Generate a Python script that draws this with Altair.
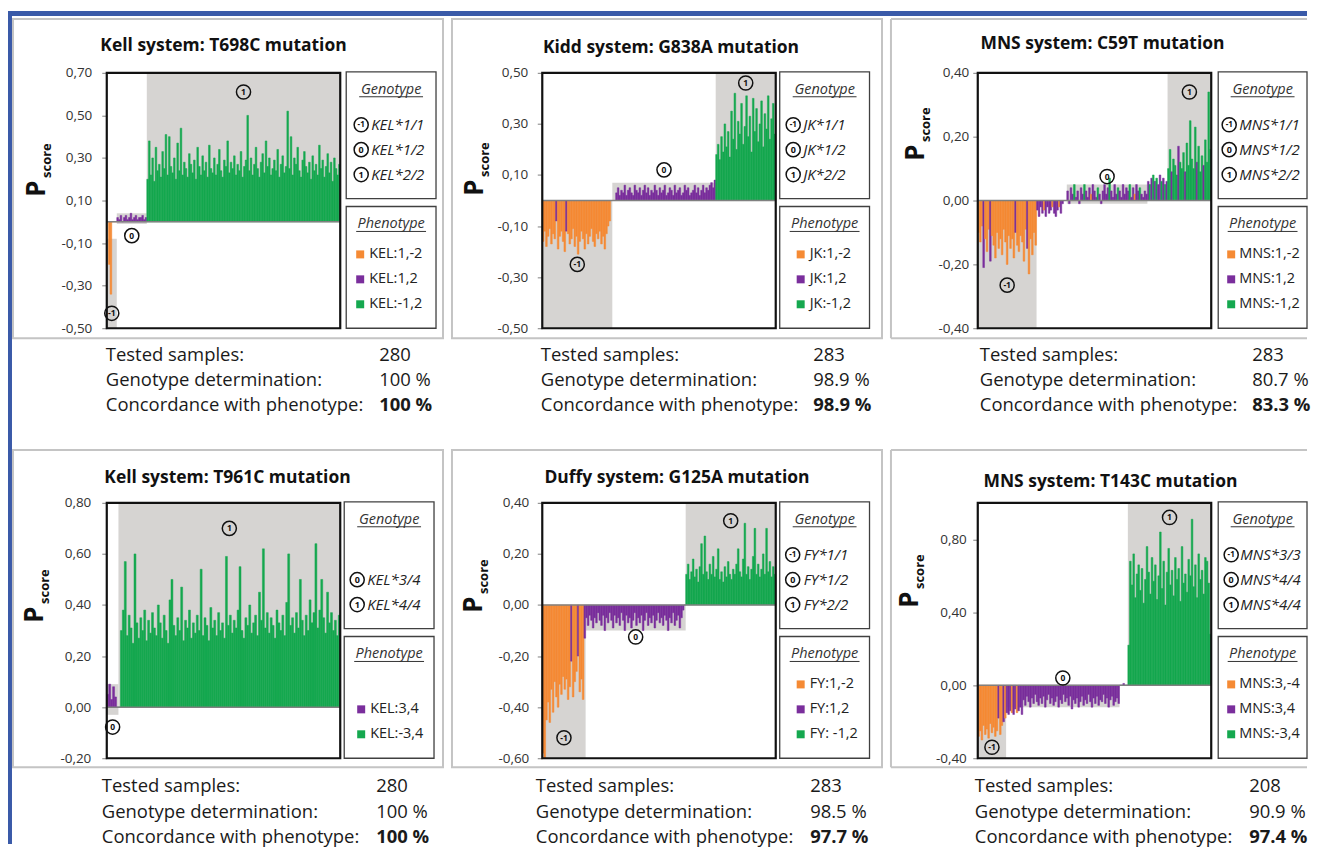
import altair as alt

ORANGE, PURPLE, GREEN = "#F58A34", "#7A2E9C", "#15A84F"
BAND = "#D6D4D2"
BLUE = "#3A5AA8"
BOXGREY = "#C4C4C4"
LEGBOX = "#404040"
FONT = "Open Sans"
W, H = 234, 256

# ---------------- Panel 1: Kell T698C ----------------
p1_title = "Kell system: T698C mutation"
p1_domain = [-0.5, 0.7]
p1_ticks = [-0.5, -0.3, -0.1, 0.1, 0.3, 0.5, 0.7]
p1_gm1 = [0.00, -0.20, -0.34, 0.00, 0.00, 0.00]
p1_g0 = [0.02, 0.01, 0.03, 0.00, 0.02, 0.03, 0.01, 0.02, 0.04, 0.01, 0.02, 0.03, 0.01, 0.02, 0.02, 0.03, 0.01, 0.02]
p1_g1 = [0.20, 0.38, 0.22, 0.30, 0.19, 0.35, 0.24, 0.27, 0.21, 0.33, 0.25, 0.41, 0.22, 0.40, 0.26, 0.23, 0.30, 0.20, 0.37, 0.24,
         0.44, 0.22, 0.28, 0.25, 0.21, 0.32, 0.27, 0.23, 0.29, 0.20, 0.35, 0.26, 0.22, 0.31, 0.24, 0.28, 0.21, 0.36, 0.25, 0.23,
         0.30, 0.22, 0.27, 0.34, 0.24, 0.21, 0.29, 0.26, 0.38, 0.23, 0.28, 0.25, 0.31, 0.22, 0.27, 0.24, 0.33, 0.21, 0.26, 0.29,
         0.50, 0.24, 0.30, 0.22, 0.27, 0.35, 0.25, 0.21, 0.28, 0.32, 0.23, 0.38, 0.26, 0.30, 0.22, 0.25, 0.29, 0.24, 0.34, 0.21,
         0.27, 0.31, 0.23, 0.26, 0.52, 0.25, 0.40, 0.22, 0.30, 0.27, 0.35, 0.24, 0.21, 0.29, 0.33, 0.26, 0.23, 0.28, 0.20, 0.31,
         0.24, 0.27, 0.22, 0.36, 0.25, 0.29, 0.21, 0.26, 0.32, 0.23, 0.28, 0.19, 0.30, 0.25, 0.22, 0.27]
p1_geno = [("-1", "KEL*1/1"), ("0", "KEL*1/2"), ("1", "KEL*2/2")]
p1_pheno = [("O", "KEL:1,-2"), ("P", "KEL:1,2"), ("G", "KEL:-1,2")]
p1_stats = ["280", "100 %", "100 %"]

# ---------------- Panel 2: Kidd G838A ----------------
p2_title = "Kidd system: G838A mutation"
p2_domain = [-0.5, 0.5]
p2_ticks = [-0.5, -0.3, -0.1, 0.1, 0.3, 0.5]
p2_gm1 = [-0.16, -0.12, -0.18, -0.14, -0.11, -0.17, -0.13, -0.15, -0.08, -0.19,
          -0.14, -0.12, -0.16, -0.20, -0.12, -0.13, -0.17, -0.15, -0.11, -0.18,
          -0.14, -0.21, -0.16, -0.12, -0.15, -0.19, -0.13, -0.17, -0.14, -0.11,
          -0.16, -0.18, -0.13, -0.15, -0.12, -0.17, -0.14, -0.19, -0.13, -0.10,
          -0.08, 0.00]
p2_g0 = [0.00, 0.00, 0.03, 0.05, 0.02, 0.04, 0.03, 0.06, 0.02, 0.04,
         0.05, 0.03, 0.02, 0.06, 0.04, 0.03, 0.05, 0.02, 0.04, 0.06,
         0.03, 0.05, 0.02, 0.04, 0.03, 0.06, 0.04, 0.02, 0.05, 0.03,
         0.04, 0.06, 0.02, 0.03, 0.05, 0.04, 0.02, 0.06, 0.03, 0.04,
         0.05, 0.02, 0.03, 0.06, 0.04, 0.05, 0.02, 0.03, 0.04, 0.06,
         0.03, 0.05, 0.02, 0.04, 0.06, 0.03, 0.05, 0.04, 0.06, 0.07,
         0.05, 0.08]
p2_g1 = [0.18, 0.22, 0.16, 0.25, 0.19, 0.30, 0.21, 0.27, 0.17, 0.35,
         0.24, 0.42, 0.20, 0.31, 0.26, 0.38, 0.22, 0.29, 0.41, 0.25,
         0.33, 0.19, 0.40, 0.27, 0.36, 0.23, 0.30, 0.39, 0.21, 0.34,
         0.28, 0.41, 0.24, 0.32, 0.38, 0.26]
p2_geno = [("-1", "JK*1/1"), ("0", "JK*1/2"), ("1", "JK*2/2")]
p2_pheno = [("O", "JK:1,-2"), ("P", "JK:1,2"), ("G", "JK:-1,2")]
p2_stats = ["283", "98.9 %", "98.9 %"]

# ---------------- Panel 3: MNS C59T ----------------
p3_title = "MNS system: C59T mutation"
p3_domain = [-0.4, 0.4]
p3_ticks = [-0.4, -0.2, 0.0, 0.2, 0.4]
p3_gm1 = [-0.10, -0.13, -0.08, -0.21, -0.12, -0.16, -0.09, -0.19, -0.11, -0.14,
          -0.18, -0.10, -0.15, -0.12, -0.17, -0.09, -0.13, -0.20, -0.11, -0.15,
          -0.12, -0.18, -0.10, -0.14, -0.16, -0.11, -0.13, -0.19, -0.09, -0.15,
          -0.23, -0.12, -0.17, -0.10, -0.14]
p3_gap1 = [-0.03, -0.05, -0.02, -0.04, -0.03, -0.05, -0.02, -0.04, -0.03, -0.02,
           -0.04, -0.05, -0.03, -0.02, -0.04, -0.01, 0.00, 0.00]
p3_g0 = [0.03, -0.01, 0.04, 0.02, 0.05, 0.01, 0.03, -0.01, 0.04, 0.02,
         0.05, 0.03, 0.01, 0.04, 0.02, 0.05, 0.03, 0.01, 0.04, 0.02,
         -0.01, 0.03, 0.05, 0.02, 0.04, 0.07, 0.03, 0.01, 0.05, 0.02,
         0.04, 0.03, 0.01, 0.05, 0.02, 0.04, 0.03, 0.05, 0.01, 0.04,
         0.02, 0.05, 0.03, 0.04, 0.02, 0.01, 0.03, 0.02]
p3_gap2 = [0.06, 0.05, 0.07, 0.08, 0.06, 0.07, 0.05, 0.08, 0.06, 0.07, 0.05, 0.06]
p3_g1 = [0.10, 0.16, 0.09, 0.13, 0.11, 0.08, 0.17, 0.12, 0.10, 0.15, 0.09, 0.18, 0.11,
         0.25, 0.13, 0.10, 0.23, 0.12, 0.17, 0.09, 0.14, 0.11, 0.19, 0.12, 0.34, 0.16]
p3_geno = [("-1", "MNS*1/1"), ("0", "MNS*1/2"), ("1", "MNS*2/2")]
p3_pheno = [("O", "MNS:1,-2"), ("P", "MNS:1,2"), ("G", "MNS:-1,2")]
p3_stats = ["283", "80.7 %", "83.3 %"]

# ---------------- Panel 4: Kell T961C ----------------
p4_title = "Kell system: T961C mutation"
p4_domain = [-0.2, 0.8]
p4_ticks = [-0.2, 0.0, 0.2, 0.4, 0.6, 0.8]
p4_g0 = [0.05, 0.09, 0.03, 0.08, 0.04, 0.00]
p4_g1 = [0.00, 0.30, 0.38, 0.57, 0.28, 0.36, 0.31, 0.25, 0.60, 0.33,
         0.27, 0.35, 0.30, 0.38, 0.26, 0.34, 0.29, 0.37, 0.31, 0.28,
         0.40, 0.33, 0.27, 0.36, 0.30, 0.25, 0.42, 0.50, 0.32, 0.28,
         0.35, 0.30, 0.47, 0.26, 0.34, 0.31, 0.38, 0.27, 0.33, 0.29,
         0.36, 0.30, 0.54, 0.28, 0.35, 0.32, 0.26, 0.39, 0.31, 0.34,
         0.28, 0.37, 0.30, 0.33, 0.27, 0.59, 0.32, 0.36, 0.29, 0.34,
         0.31, 0.38, 0.55, 0.30, 0.27, 0.35, 0.32, 0.40, 0.29, 0.33,
         0.36, 0.28, 0.45, 0.34, 0.62, 0.31, 0.37, 0.29, 0.35, 0.32,
         0.27, 0.38, 0.33, 0.30, 0.36, 0.28, 0.41, 0.60, 0.32, 0.35,
         0.29, 0.37, 0.31, 0.50, 0.34, 0.28, 0.36, 0.30, 0.42, 0.33,
         0.37, 0.64, 0.31, 0.38, 0.50, 0.35, 0.29, 0.45, 0.33, 0.37,
         0.30, 0.34, 0.28, 0.36]
p4_geno = [None, ("0", "KEL*3/4"), ("1", "KEL*4/4")]
p4_pheno = [None, ("P", "KEL:3,4"), ("G", "KEL:-3,4")]
p4_stats = ["280", "100 %", "100 %"]

# ---------------- Panel 5: Duffy G125A ----------------
p5_title = "Duffy system: G125A mutation"
p5_domain = [-0.6, 0.4]
p5_ticks = [-0.6, -0.4, -0.2, 0.0, 0.2, 0.4]
p5_gm1 = [-0.58, -0.60, -0.45, -0.38, -0.46, -0.33, -0.42, -0.30, -0.36, -0.40,
          -0.31, -0.35, -0.28, -0.33, -0.29, -0.37, -0.32, -0.22, -0.36, -0.30,
          -0.26, -0.20, -0.34, -0.29, -0.37, -0.13]
p5_g0 = [-0.05, -0.08, -0.04, -0.06, -0.09, -0.05, -0.07, -0.03, -0.06, -0.08,
         -0.04, -0.10, -0.05, -0.07, -0.03, -0.06, -0.09, -0.04, -0.07, -0.05,
         -0.08, -0.03, -0.06, -0.10, -0.04, -0.07, -0.05, -0.09, -0.06, -0.03,
         -0.08, -0.05, -0.07, -0.04, -0.10, -0.06, -0.03, -0.08, -0.05, -0.07,
         -0.04, -0.09, -0.06, -0.03, -0.07, -0.05, -0.08, -0.04, -0.06, -0.10,
         -0.05, -0.07, -0.03, -0.08, -0.06, -0.04, -0.09, -0.05, -0.02, 0.00]
p5_g1 = [0.12, 0.16, 0.10, 0.13, 0.18, 0.11, 0.14, 0.09, 0.15, 0.24,
         0.12, 0.27, 0.13, 0.10, 0.16, 0.12, 0.19, 0.11, 0.14, 0.22,
         0.10, 0.13, 0.09, 0.15, 0.11, 0.17, 0.12, 0.10, 0.14, 0.12,
         0.16, 0.22, 0.13, 0.11, 0.18, 0.32, 0.12, 0.15, 0.10, 0.14,
         0.19, 0.30, 0.12, 0.16, 0.11, 0.14, 0.20, 0.12, 0.30, 0.13,
         0.17, 0.11, 0.15, 0.12]
p5_geno = [("-1", "FY*1/1"), ("0", "FY*1/2"), ("1", "FY*2/2")]
p5_pheno = [("O", "FY:1,-2"), ("P", "FY:1,2"), ("G", "FY: -1,2")]
p5_stats = ["283", "98.5 %", "97.7 %"]

# ---------------- Panel 6: MNS T143C ----------------
p6_title = "MNS system: T143C mutation"
p6_domain = [-0.4, 1.0]
p6_ticks = [-0.4, 0.0, 0.4, 0.8]
p6_gm1 = [-0.28, -0.25, -0.30, -0.22, -0.27, -0.24, -0.29, -0.21, -0.26, -0.23,
          -0.28, -0.25, -0.18, -0.27, -0.22, -0.20, -0.18]
p6_g0 = [-0.15, -0.16, -0.14, -0.15, -0.16, -0.13, -0.15, -0.14, -0.12, -0.16,
         -0.08, -0.11, -0.06, -0.09, -0.12, -0.07, -0.10, -0.05, -0.09, -0.11,
         -0.07, -0.10, -0.06, -0.12, -0.08, -0.05, -0.10, -0.07, -0.11, -0.09,
         -0.06, -0.12, -0.08, -0.10, -0.05, -0.09, -0.07, -0.11, -0.06, -0.13,
         -0.08, -0.10, -0.07, -0.12, -0.09, -0.06, -0.11, -0.08, -0.10, -0.05,
         -0.09, -0.12, -0.07, -0.10, -0.06, -0.11, -0.08, -0.09, -0.05, -0.10,
         -0.07, -0.12, -0.08, -0.06, -0.11, -0.09, -0.07, -0.10]
p6_gap = [0.00, 0.00, 0.01, 0.00, 0.00]
p6_g1 = [0.22, 0.68, 0.55, 0.72, 0.48, 0.61, 0.66, 0.52, 0.64, 0.45,
         0.58, 0.76, 0.62, 0.50, 0.70, 0.57, 0.66, 0.47, 0.60, 0.84,
         0.53, 0.68, 0.44, 0.62, 0.75, 0.55, 0.63, 0.49, 0.70, 0.58,
         0.64, 0.46, 0.76, 0.56, 0.61, 0.51, 0.69, 0.60, 0.91, 0.54,
         0.66, 0.48, 0.72, 0.58, 0.63, 0.50, 0.70, 0.68, 0.56, 0.28]
p6_geno = [("-1", "MNS*3/3"), ("0", "MNS*4/4"), ("1", "MNS*4/4")]
p6_pheno = [("O", "MNS:3,-4"), ("P", "MNS:3,4"), ("G", "MNS:-3,4")]
p6_stats = ["208", "90.9 %", "97.4 %"]

PANELS = [
    dict(title=p1_title, domain=p1_domain, ticks=p1_ticks, geno=p1_geno, pheno=p1_pheno, stats=p1_stats,
         segs=[dict(vals=p1_gm1, ph="O", band=(-0.5, -0.08), mark="-1", my=-0.43),
               dict(vals=p1_g0, ph="P", band=(-0.01, 0.04), mark="0", my=-0.065),
               dict(vals=p1_g1, ph="G", band=(0.0, 0.7), mark="1", my=0.61)]),
    dict(title=p2_title, domain=p2_domain, ticks=p2_ticks, geno=p2_geno, pheno=p2_pheno, stats=p2_stats,
         segs=[dict(vals=p2_gm1, ph="O", exc={8: "P", 14: "P"}, band=(-0.5, 0.0), mark="-1", my=-0.25),
               dict(vals=p2_g0, ph="P", band=(0.0, 0.07), mark="0", my=0.12),
               dict(vals=p2_g1, ph="G", band=(0.0, 0.5), mark="1", my=0.46)]),
    dict(title=p3_title, domain=p3_domain, ticks=p3_ticks, geno=p3_geno, pheno=p3_pheno, stats=p3_stats,
         segs=[dict(vals=p3_gm1, ph="O", exc={3: "P", 7: "P", 22: "P", 29: "P"}, band=(-0.4, 0.0), mark="-1", my=-0.265),
               dict(vals=p3_gap1, ph="P", exc={4: "O", 9: "O", 13: "O"}),
               dict(vals=p3_g0, ph="P", exc={4: "G", 10: "G", 18: "G", 25: "G", 30: "G", 37: "G", 43: "G", 14: "O", 40: "O"},
                    band=(-0.01, 0.05), mark="0", my=0.075),
               dict(vals=p3_gap2, ph="P", exc={1: "G", 3: "G", 5: "G", 8: "G", 10: "G"}),
               dict(vals=p3_g1, ph="G", exc={2: "P", 6: "P", 10: "P", 17: "P", 21: "P"}, band=(0.0, 0.4), mark="1", my=0.34)]),
    dict(title=p4_title, domain=p4_domain, ticks=p4_ticks, geno=p4_geno, pheno=p4_pheno, stats=p4_stats,
         segs=[dict(vals=p4_g0, ph="P", band=(-0.03, 0.09), mark="0", my=-0.078),
               dict(vals=p4_g1, ph="G", band=(0.0, 0.8), mark="1", my=0.70)]),
    dict(title=p5_title, domain=p5_domain, ticks=p5_ticks, geno=p5_geno, pheno=p5_pheno, stats=p5_stats,
         segs=[dict(vals=p5_gm1, ph="O", exc={17: "P", 21: "P", 25: "P"}, band=(-0.6, 0.0), mark="-1", my=-0.52),
               dict(vals=p5_g0, ph="P", band=(-0.1, 0.0), mark="0", my=-0.125),
               dict(vals=p5_g1, ph="G", band=(0.0, 0.4), mark="1", my=0.33)]),
    dict(title=p6_title, domain=p6_domain, ticks=p6_ticks, geno=p6_geno, pheno=p6_pheno, stats=p6_stats,
         segs=[dict(vals=p6_gm1, ph="O", exc={12: "P", 15: "P"}, band=(-0.4, 0.0), mark="-1", my=-0.34),
               dict(vals=p6_g0, ph="P", exc={3: "O", 6: "O"}, band=(-0.12, 0.0), mark="0", my=0.04),
               dict(vals=p6_gap, ph="P"),
               dict(vals=p6_g1, ph="G", band=(0.0, 1.0), mark="1", my=0.92)]),
]

# layout offsets relative to each plot area's top-left corner (pixels)
LAYOUT = [
    dict(box_x=(-94, 337), box_y=(-54, 266), title=(117, -27), P=(-70, 116), leg=(240, 330), lpad=10,
         c_off=15, gt_off=25, sq_off=14, pt_off=23, st_x=-1, sv_x=273, st_y=(283, 308, 333)),
    dict(box_x=(-90.5, 340.5), box_y=(-54, 266), title=(129, -25), P=(-67.5, 115), leg=(238, 328), lpad=9.5,
         c_off=13.5, gt_off=23.5, sq_off=21, pt_off=30, st_x=-1.5, sv_x=271.5, st_y=(283, 308, 333)),
    dict(box_x=(-87, None), box_y=(-54, 266), title=(125, -29), P=(-62, 80), leg=(241, 330), lpad=4,
         c_off=11, gt_off=21, sq_off=13, pt_off=21, st_x=2, sv_x=275, st_y=(283, 308, 333)),
    dict(box_x=(-94, 337), box_y=(-53, 265), title=(121, -25), P=(-72, 112), leg=(238, 328), lpad=11,
         c_off=13, gt_off=23, sq_off=17, pt_off=26, st_x=-5, sv_x=270, st_y=(284, 310, 335)),
    dict(box_x=(-90.5, 340.5), box_y=(-53, 265), title=(135, -25), P=(-68.5, 102), leg=(238, 328), lpad=8.5,
         c_off=13, gt_off=24, sq_off=21, pt_off=30, st_x=-6.5, sv_x=268.5, st_y=(284, 310, 335)),
    dict(box_x=(-87, None), box_y=(-53, 265), title=(133, -21), P=(-68, 97), leg=(241, 330), lpad=6.5,
         c_off=13, gt_off=22, sq_off=13, pt_off=21, st_x=-3, sv_x=272, st_y=(284, 310, 335)),
]

COLORS = {"O": ORANGE, "P": PURPLE, "G": GREEN}
ONE = alt.Data(values=[{"k": 0}])
CIRC_SIZE = 200


def V(x):
    return alt.value(x)


def ptext(x, y, s, size, weight="normal", style="normal", align="left", baseline="middle",
          color="#1a1a1a", angle=None):
    kw = dict(text=s, font=FONT, fontSize=size, fontWeight=weight, fontStyle=style,
              align=align, baseline=baseline, color=color)
    if angle is not None:
        kw["angle"] = angle
    return alt.Chart(ONE).mark_text(**kw).encode(x=V(x), y=V(y))


def prect(x, x2, y, y2, fill="transparent", stroke=None, sw=1.0):
    kw = dict(fill=fill)
    if stroke:
        kw.update(stroke=stroke, strokeWidth=sw)
    return alt.Chart(ONE).mark_rect(**kw).encode(x=V(x), x2=V(x2), y=V(y), y2=V(y2))


def prule(x, x2, y, y2, color, sw):
    return alt.Chart(ONE).mark_rule(color=color, strokeWidth=sw).encode(x=V(x), x2=V(x2), y=V(y), y2=V(y2))


def circ_mark(x, y, t):
    c = alt.Chart(ONE).mark_point(shape="circle", size=CIRC_SIZE, filled=False, color="#111111",
                                  strokeWidth=1.5, opacity=1).encode(x=V(x), y=V(y))
    tx = ptext(x, y, t, 8 if t == "-1" else 9, weight="bold", align="center", color="#111111")
    return [c, tx]


def build(spec, L, first=False):
    rows, bands, marks = [], [], []
    i = 0
    for seg in spec["segs"]:
        s = i
        exc = seg.get("exc", {})
        for k, v in enumerate(seg["vals"]):
            rows.append({"i": i, "i2": i + 1, "v": v, "z": 0, "ph": exc.get(k, seg["ph"])})
            i += 1
        if seg.get("band"):
            lo, hi = seg["band"]
            bands.append({"xs": s, "xe": i, "lo": lo, "hi": hi})
            marks.append({"cx": (s + i) / 2, "cy": seg["my"], "t": seg["mark"]})
    n = i
    xs = alt.Scale(domain=[0, n], nice=False, zero=False)
    ys = alt.Scale(domain=spec["domain"], nice=False, zero=False)
    yax = alt.Axis(values=spec["ticks"], title=None, domain=False, grid=False, ticks=True, tickSize=5,
                   tickColor="#7f7f7f", tickWidth=1, labelFont=FONT, labelFontSize=13.5, labelColor="#333333",
                   labelPadding=L["lpad"],
                   labelExpr="replace(replace(format(datum.value, '.2f'), '.', ','), '\u2212', '-')")

    def X(f):
        return alt.X(f, type="quantitative", scale=xs, axis=None)

    def Y(f):
        return alt.Y(f, type="quantitative", scale=ys, axis=yax)

    pscale = alt.Scale(domain=["O", "P", "G"], range=[ORANGE, PURPLE, GREEN])

    layers = []
    bx0, bx1 = L["box_x"]
    by0, by1 = L["box_y"]
    if bx1 is None:
        right = 330
        layers += [prule(bx0, right, by0, by0, BOXGREY, 2), prule(bx0, right, by1, by1, BOXGREY, 2),
                   prule(bx0, bx0, by0, by1, BOXGREY, 2)]
    else:
        layers.append(prect(bx0, bx1, by0, by1, stroke=BOXGREY, sw=2))

    layers.append(alt.Chart(alt.Data(values=bands)).mark_rect(color=BAND).encode(
        x=X("xs"), x2="xe:Q", y=Y("lo"), y2="hi:Q"))
    layers.append(alt.Chart(alt.Data(values=rows)).mark_rect(strokeWidth=0.5).encode(
        x=X("i"), x2="i2:Q", y=Y("v"), y2="z:Q",
        color=alt.Color("ph:N", scale=pscale, legend=None),
        stroke=alt.Stroke("ph:N", scale=pscale, legend=None)))
    layers.append(alt.Chart(alt.Data(values=[{"z": 0}])).mark_rule(color="#808080", strokeWidth=1.5).encode(
        y=Y("z"), x=V(0), x2=V(W)))
    layers.append(prect(0, W, 0, H, stroke="#111111", sw=2.2))
    # circled genotype markers inside the plot
    layers.append(alt.Chart(alt.Data(values=marks)).mark_point(
        shape="circle", size=CIRC_SIZE, filled=False, color="#111111", strokeWidth=1.5, opacity=1).encode(
        x=X("cx"), y=Y("cy")))
    layers.append(alt.Chart(alt.Data(values=marks)).mark_text(
        font=FONT, fontSize=8.5, fontWeight="bold", color="#111111").encode(
        x=X("cx"), y=Y("cy"), text="t:N"))

    # legend boxes
    lx0, lx1 = L["leg"]
    cm = (lx0 + lx1) / 2
    layers += [prect(lx0, lx1, -1, 126, stroke=LEGBOX, sw=1.3), prect(lx0, lx1, 134, 256, stroke=LEGBOX, sw=1.3)]
    layers.append(ptext(cm, 21, "Genotype", 14.5, style="italic", align="center", baseline="alphabetic", color="#333333"))
    layers.append(prule(cm - 32, cm + 32, 24, 24, "#333333", 1))
    for r, item in enumerate(spec["geno"]):
        if item is None:
            continue
        y = [52, 77, 102][r]
        layers += circ_mark(lx0 + L["c_off"], y, item[0])
        layers.append(ptext(lx0 + L["gt_off"], y, item[1], 15, style="italic", color="#222222"))
    layers.append(ptext(cm, 156, "Phenotype", 14.5, style="italic", align="center", baseline="alphabetic", color="#333333"))
    layers.append(prule(cm - 35, cm + 35, 159, 159, "#333333", 1))
    for r, item in enumerate(spec["pheno"]):
        if item is None:
            continue
        y = [182, 207, 232][r]
        layers.append(alt.Chart(ONE).mark_square(size=64, color=COLORS[item[0]], opacity=1).encode(
            x=V(lx0 + L["sq_off"]), y=V(y)))
        layers.append(ptext(lx0 + L["pt_off"], y, item[1], 14.5, color="#222222"))

    # title and y label
    tx, ty = L["title"]
    layers.append(ptext(tx, ty, spec["title"], 17.5, weight="bold", align="center", color="#111111"))
    px, py = L["P"]
    layers.append(ptext(px, py, "P", 26, weight="bold", align="center", angle=270, color="#111111"))
    layers.append(ptext(px + 10, py - 28, "score", 13, weight="bold", align="center", angle=270, color="#111111"))

    # stats below the box
    labels = ["Tested samples:", "Genotype determination:", "Concordance with phenotype:"]
    for r in range(3):
        yy = L["st_y"][r]
        layers.append(ptext(L["st_x"], yy, labels[r], 18.5, color="#1a1a1a"))
        layers.append(ptext(L["sv_x"], yy, spec["stats"][r], 18.5, weight="bold" if r == 2 else "normal",
                            color="#1a1a1a"))

    if first:
        layers += [prect(-99, 1203, -62, -57, fill=BLUE), prect(-99, -95, -62, 773, fill=BLUE)]

    return alt.layer(*layers).properties(width=W, height=H)


charts = [build(PANELS[k], LAYOUT[k], first=(k == 0)) for k in range(6)]
row1 = alt.hconcat(*charts[:3], spacing=202.5, bounds="flush")
row2 = alt.hconcat(*charts[3:], spacing=202.5, bounds="flush")
# with flush bounds the nested rows count as zero height, so the spacing is the full row pitch
chart = alt.vconcat(row1, row2, spacing=431, bounds="flush").properties(
    padding={"left": 0, "top": 2, "right": 0, "bottom": 0}, background="white"
).configure_view(strokeWidth=0)

chart.save("out.html", embed_options={"renderer": "svg", "actions": False})
